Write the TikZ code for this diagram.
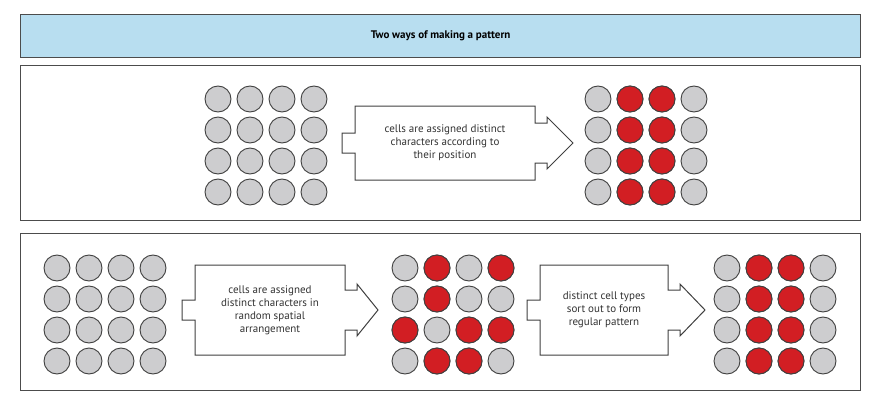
\documentclass[tikz,border=0pt]{standalone}
\usepackage{fontspec}
\setmainfont{PT Sans}
\definecolor{titleblue}{RGB}{184,222,240}
\definecolor{cellgray}{RGB}{205,205,207}
\definecolor{cellred}{RGB}{210,30,35}
\tikzset{
  panel/.style={draw=black!70,line width=1.2pt},
  cell/.style={circle,draw=black!75,line width=0.9pt,fill=cellgray,minimum size=26pt,inner sep=0pt},
  redcell/.style={cell,fill=cellred},
  arrowshape/.style={draw=black!75,line width=1pt,fill=white},
  lbl/.style={align=center,font=\fontsize{11}{13}\selectfont,text=black!80}
}
\newcommand{\cellgrid}[4]{% x0, y0, name, list of red (col/row)
  \foreach \c in {1,...,4}{\foreach \r in {1,...,4}{
    \node[cell] (#3-\c-\r) at ({#1+(\c-1)*32},{#2+(\r-1)*31}) {};}}
  \foreach \c/\r in {#4}{\node[redcell] (#3r-\c-\r) at ({#1+(\c-1)*32},{#2+(\r-1)*31}) {};}
}
\newcommand{\bigarrow}[5]{% L, R, tip, C, H
  \draw[arrowshape] (#1-13,#4-10) -- (#1,#4-10) -- (#1,#4-#5) -- (#2,#4-#5) -- (#2,#4-20)
   -- (#2+12,#4-20) -- (#2+12,#4-26) -- (#3,#4) -- (#2+12,#4+26) -- (#2+12,#4+20)
   -- (#2,#4+20) -- (#2,#4+#5) -- (#1,#4+#5) -- (#1,#4+10) -- (#1-13,#4+10) -- cycle;
}
\begin{document}
\begin{tikzpicture}[x=1pt,y=-1pt]
\useasboundingbox (0,0) rectangle (876,412);
\node[panel,fill=titleblue,minimum width=840pt,minimum height=43pt,anchor=north west,
  font=\bfseries\fontsize{11}{13}\selectfont] (title) at (20,14) {Two ways of making a pattern};
\node[panel,minimum width=840pt,minimum height=155pt,anchor=north west] (p1) at (20,65) {};
\node[panel,minimum width=840pt,minimum height=157pt,anchor=north west] (p2) at (20,233) {};
% panel 1
\cellgrid{218}{99}{a}{}
\bigarrow{355}{535}{573}{143}{37}
\node[lbl] (t1) at (445,143) {cells are assigned distinct\\characters according to\\their position};
\cellgrid{598}{99}{b}{2/1,3/1,2/2,3/2,2/3,3/3,2/4,3/4}
% panel 2
\cellgrid{57}{268}{c}{}
\bigarrow{195}{345}{378}{310}{45}
\node[lbl] (t2) at (270,310) {cells are assigned\\distinct characters in\\random spatial\\arrangement};
\cellgrid{405}{268}{d}{2/1,4/1,2/2,1/3,3/3,4/3,2/4,3/4}
\bigarrow{540}{668}{705}{310}{45}
\node[lbl] (t3) at (604,310) {distinct cell types\\sort out to form\\regular pattern};
\cellgrid{727}{268}{e}{2/1,3/1,2/2,3/2,2/3,3/3,2/4,3/4}
\end{tikzpicture}
\end{document}
